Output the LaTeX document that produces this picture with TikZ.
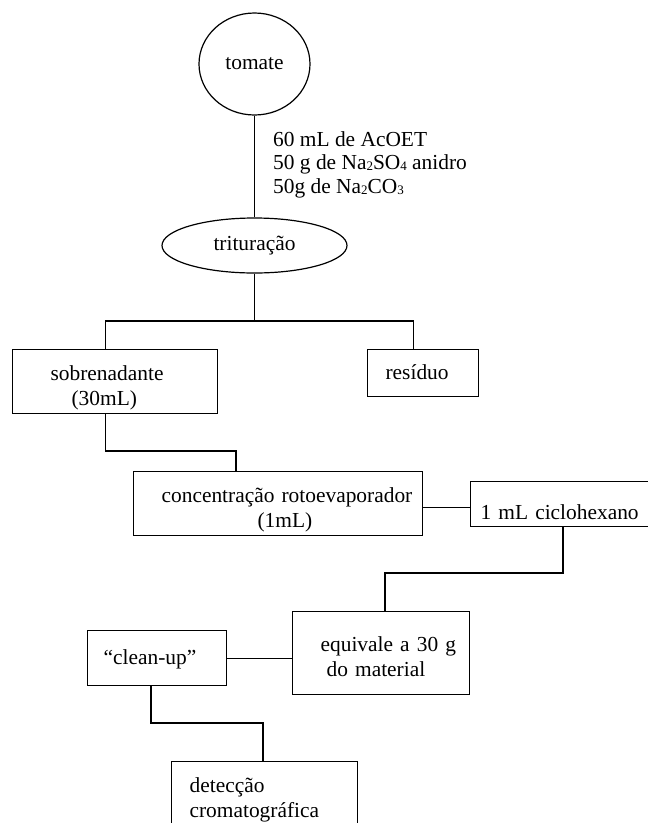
\documentclass[tikz,border=0pt]{standalone}
\usepackage{fontspec}
\setmainfont{Liberation Serif}
\usetikzlibrary{shapes.geometric}
\newcommand\sbs[1]{\raisebox{-1pt}{\fontsize{13}{13}\selectfont #1}}
\begin{document}
\begin{tikzpicture}[x=1pt,y=-1pt,
  every node/.style={font=\fontsize{21.4}{25}\selectfont},
  conn/.style={line width=1.2pt},
  flowbox/.style={draw, line width=1.2pt, inner sep=0pt, anchor=north west, align=left},
  oval/.style={draw, ellipse, line width=1.2pt, inner sep=0pt}]
\useasboundingbox (0,0) rectangle (648,823);

\node[oval, minimum width=111pt, minimum height=102pt] (tom) at (254.5,64) {tomate};
\node[oval, minimum width=185pt, minimum height=55pt] (tri) at (254.5,245.5) {trituração};
\node[anchor=base west, align=left, inner sep=0pt, font=\fontsize{21.4}{23.7}\selectfont] (reag) at (273,193.4)
  {60 mL de AcOET\\50 g de Na\sbs{2}SO\sbs{4} anidro\\50g de Na\sbs{2}CO\sbs{3}};

\node[flowbox, text width=205pt, text height=31pt, text depth=33pt] (sob) at (12,349)
  {\hspace*{38pt}sobrenadante\\\hspace*{59pt}(30mL)};
\node[flowbox, text width=111pt, text height=30pt, text depth=17pt] (res) at (367,349)
  {\hspace*{18pt}resíduo};
\node[flowbox, text width=289pt, text height=31pt, text depth=33pt] (conc) at (133,471)
  {\hspace*{28pt}concentração rotoevaporador\\\hspace*{124pt}(1mL)};
\node[flowbox, text width=180pt, text height=38pt, text depth=7pt] (cic) at (470,481)
  {\hspace*{10pt}1 mL ciclohexano};
\node[flowbox, text width=177pt, text height=40pt, text depth=43pt] (equ) at (292,611)
  {\hspace*{28pt}equivale a 30 g\\\hspace*{34pt}do material};
\node[flowbox, text width=139pt, text height=34pt, text depth=21pt] (cln) at (87,630)
  {\hspace*{16pt}“clean-up”};
\node[flowbox, text width=186pt, text height=31pt, text depth=49pt] (det) at (171,761)
  {\hspace*{18pt}detecção\\\hspace*{18pt}cromatográfica};

\coordinate (s1) at (254.5,321);
\coordinate (j2) at (236,451);
\coordinate (j3a) at (563,573);
\coordinate (j3b) at (385,573);
\coordinate (j4a) at (151,723);
\coordinate (j4b) at (263,723);

\draw[conn] (tom.south) -- (tri.north);
\draw[conn] (tri.south) -- (s1);
\draw[conn] ([xshift=-9.5pt]sob.north) |- (s1) -| ([xshift=-9.5pt]res.north);
\draw[conn] ([xshift=-9.5pt]sob.south) |- (j2) -- (j2 |- conc.north);
\draw[conn] ([yshift=-4pt]conc.east) -- ([yshift=-4pt]conc.east -| cic.west);
\draw[conn] (j3a |- cic.south) -- (j3a) -- (j3b) -- (j3b |- equ.north);
\draw[conn] (cln.east) -- (cln.east -| equ.west);
\draw[conn] (j4a |- cln.south) -- (j4a) -- (j4b) -- (j4b |- det.north);
\end{tikzpicture}
\end{document}
